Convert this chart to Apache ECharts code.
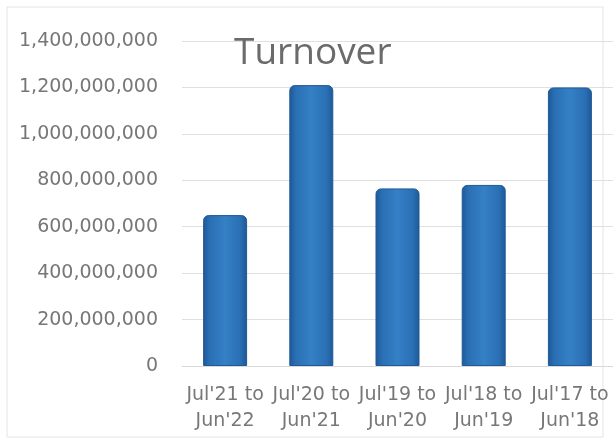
<!DOCTYPE html>
<html>
<head>
<meta charset="utf-8">
<script src="https://cdn.jsdelivr.net/npm/echarts@6/dist/echarts.min.js"></script>
<style>
  html, body { margin: 0; padding: 0; background: #fff; }
  #main { width: 613px; height: 443px; }
</style>
</head>
<body>
<div id="main"></div>
<script>
// 数据
var categories = ["Jul'21 to\nJun'22", "Jul'20 to\nJun'21", "Jul'19 to\nJun'20", "Jul'18 to\nJun'19", "Jul'17 to\nJun'18"];
var turnover = [650000000, 1210000000, 765000000, 780000000, 1200000000];
var yTicks = { min: 0, max: 1400000000, interval: 200000000 };

var myChart = echarts.init(document.getElementById('main'));

var option = {
    backgroundColor: '#fff',
    animation: false,
    title: {
        text: 'Turnover',
        left: 229,
        top: 30,
        textStyle: {
            fontFamily: 'Open Sans',
            fontSize: 37,
            fontWeight: 'normal',
            color: '#6b6b6b'
        }
    },
    // 外框
    graphic: [{
        type: 'rect',
        shape: { x: 7, y: 7, width: 596, height: 430 },
        style: { fill: 'none', stroke: '#e4e4e4', lineWidth: 1 },
        z: -1
    }],
    grid: {
        left: 182,
        top: 41,
        width: 433,
        height: 325
    },
    xAxis: {
        type: 'category',
        data: categories,
        axisTick: { show: false },
        axisLine: { lineStyle: { color: '#d9d9d9' } },
        axisLabel: {
            interval: 0,
            margin: 16,
            fontFamily: 'DejaVu Sans',
            fontSize: 19,
            lineHeight: 26,
            color: '#777777'
        }
    },
    yAxis: {
        type: 'value',
        min: yTicks.min,
        max: yTicks.max,
        interval: yTicks.interval,
        axisLine: { show: false },
        axisTick: { show: false },
        splitLine: { lineStyle: { color: '#e0e0e0' } },
        axisLabel: {
            margin: 24,
            fontFamily: 'DejaVu Sans',
            fontSize: 19,
            color: '#777777',
            formatter: function (v) {
                return v.toString().replace(/\B(?=(\d{3})+(?!\d))/g, ',');
            }
        }
    },
    series: [{
        type: 'bar',
        data: turnover,
        barWidth: 44,
        itemStyle: {
            borderRadius: [5, 5, 0, 0],
            color: new echarts.graphic.LinearGradient(0, 0, 1, 0, [
                { offset: 0, color: '#1d5895' },
                { offset: 0.15, color: '#2a6fb4' },
                { offset: 0.5, color: '#3580c6' },
                { offset: 0.85, color: '#2a6fb4' },
                { offset: 1, color: '#1d5895' }
            ]),
            borderColor: '#1f5a96',
            borderWidth: 1
        }
    }]
};

myChart.setOption(option);
</script>
</body>
</html>
